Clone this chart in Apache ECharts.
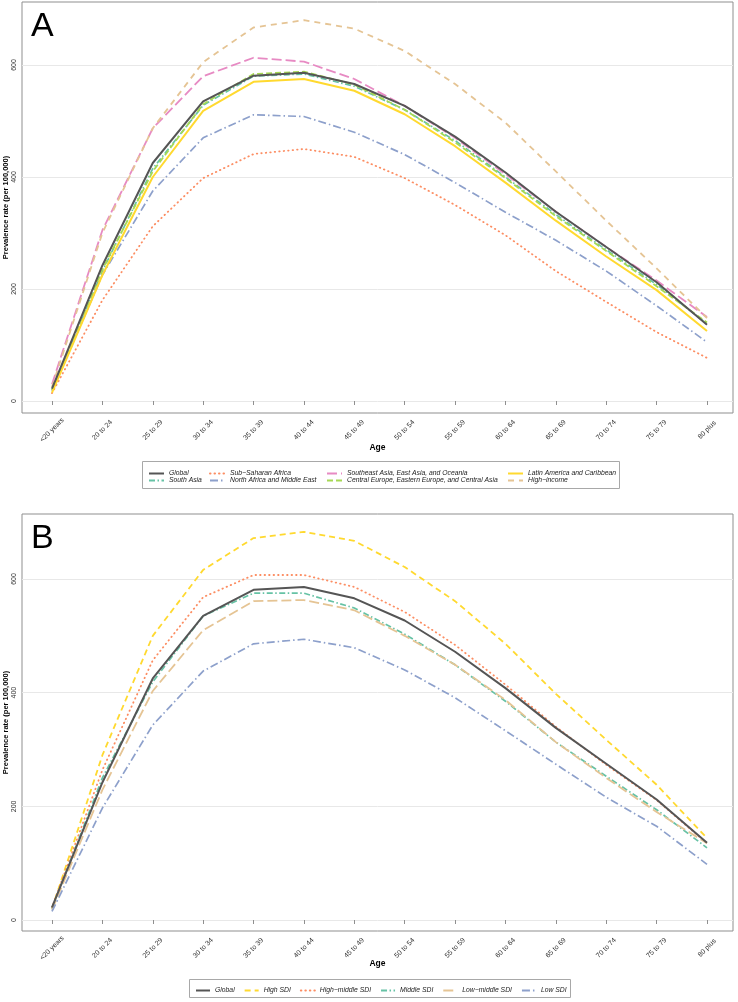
<!DOCTYPE html>
<html><head><meta charset="utf-8">
<script src="https://cdn.jsdelivr.net/npm/echarts@6/dist/echarts.min.js"></script>
<style>html,body{margin:0;padding:0;background:#fff}#c{width:738px;height:1002px}</style>
</head><body><div id="c"></div>
<script>
// ---------- data ----------
const ageGroups = ['<20 years','20 to 24','25 to 29','30 to 34','35 to 39','40 to 44','45 to 49','50 to 54','55 to 59','60 to 64','65 to 69','70 to 74','75 to 79','80 plus'];

// Panel A: regions
const globalVals      = [22, 242, 425, 535, 581, 586, 566, 527, 472, 408, 338, 275, 212, 136];
const southAsia       = [20, 232, 415, 528, 580, 584, 562, 520, 465, 400, 333, 270, 208, 138];
const subSaharan      = [14, 180, 312, 398, 441, 450, 436, 398, 350, 296, 232, 177, 123, 77];
const northAfrica     = [18, 225, 375, 470, 511, 508, 480, 440, 390, 337, 287, 232, 170, 105];
const southeastAsia   = [30, 305, 487, 580, 613, 606, 575, 527, 470, 405, 338, 275, 215, 150];
const centralEurope   = [20, 235, 410, 530, 584, 588, 565, 520, 462, 398, 330, 268, 205, 140];
const latinAmerica    = [15, 225, 400, 518, 570, 575, 554, 512, 455, 390, 322, 258, 198, 125];
const highIncome      = [25, 300, 487, 605, 667, 680, 665, 625, 566, 497, 410, 322, 237, 148];

// Panel B: SDI groups
const highSDI         = [20, 290, 500, 616, 672, 683, 667, 621, 561, 486, 398, 317, 238, 144];
const highMiddleSDI   = [22, 264, 457, 568, 607, 607, 586, 542, 484, 414, 340, 273, 211, 135];
const middleSDI       = [20, 250, 419, 535, 575, 575, 549, 503, 449, 385, 313, 253, 194, 127];
const lowMiddleSDI    = [18, 229, 403, 510, 561, 563, 545, 500, 449, 387, 313, 250, 190, 135];
const lowSDI          = [15, 197, 343, 438, 486, 494, 479, 440, 391, 333, 274, 216, 165, 98];

const yTickValues = [0, 200, 400, 600];

// ---------- styles ----------
const FONT = '"Liberation Sans", Arial, Helvetica, sans-serif';
const seriesA = [
  {name: 'Global', data: globalVals, color: '#555555', type: 'solid', width: 2},
  {name: 'South Asia', data: southAsia, color: '#66c2a5', type: [6, 2.5, 1.5, 2.5], width: 1.7},
  {name: 'Sub\u2212Saharan Africa', data: subSaharan, color: '#fc8d62', type: [0.5, 4], width: 1.8, cap: 'round'},
  {name: 'North Africa and Middle East', data: northAfrica, color: '#8da0cb', type: [8, 3, 1.5, 3], width: 1.7},
  {name: 'Southeast Asia, East Asia, and Oceania', data: southeastAsia, color: '#e78ac3', type: [10, 4], width: 1.8},
  {name: 'Central Europe, Eastern Europe, and Central Asia', data: centralEurope, color: '#a6d854', type: [6, 3], width: 1.8},
  {name: 'Latin America and Caribbean', data: latinAmerica, color: '#ffd92f', type: 'solid', width: 2},
  {name: 'High\u2212income', data: highIncome, color: '#e5c494', type: [6, 5], width: 1.8}
];
const seriesB = [
  {name: 'Global', data: globalVals, color: '#555555', type: 'solid', width: 2},
  {name: 'High SDI', data: highSDI, color: '#ffd92f', type: [6, 4], width: 1.8},
  {name: 'High\u2212middle SDI', data: highMiddleSDI, color: '#fc8d62', type: [0.5, 4], width: 1.8, cap: 'round'},
  {name: 'Middle SDI', data: middleSDI, color: '#66c2a5', type: [6, 2.5, 1.5, 2.5], width: 1.7},
  {name: 'Low\u2212middle SDI', data: lowMiddleSDI, color: '#e5c494', type: [10, 4], width: 1.8},
  {name: 'Low SDI', data: lowSDI, color: '#8da0cb', type: [8, 3, 1.5, 3], width: 1.7}
];

// ---------- layout ----------
const frameL = 22, frameR = 733, dataL = 52, dataR = 707;
const panels = [
  {label: 'A', frameTop: 2, frameBottom: 413, plotTop: 65, plotBottom: 401, ageGap: 30, series: seriesA},
  {label: 'B', frameTop: 514, frameBottom: 931, plotTop: 579, plotBottom: 920, ageGap: 28, series: seriesB}
];

const grid = [], xAxis = [], yAxis = [], series = [], title = [];
panels.forEach((p, pi) => {
  const base = pi * 3;
  grid.push({left: frameL, top: p.frameTop, width: frameR - frameL, height: p.frameBottom - p.frameTop,
    show: true, borderColor: '#8f8f8f', borderWidth: 1, backgroundColor: 'transparent',
    containLabel: false, outerBoundsMode: 'none'});
  grid.push({left: frameL, top: p.plotTop, width: frameR - frameL, height: p.plotBottom - p.plotTop,
    containLabel: false, outerBoundsMode: 'none'});
  grid.push({left: dataL, top: p.plotTop, width: dataR - dataL, height: p.plotBottom - p.plotTop,
    containLabel: false, outerBoundsMode: 'none'});

  xAxis.push({gridIndex: base, type: 'value', min: 0, max: 1,
    axisLine: {show: false}, axisTick: {show: false}, axisLabel: {show: false}, splitLine: {show: false},
    name: 'Age', nameLocation: 'middle', nameGap: p.ageGap,
    nameTextStyle: {fontFamily: FONT, fontSize: 8.5, fontWeight: 'bold', color: '#000'}});
  yAxis.push({gridIndex: base, type: 'value', min: 0, max: 1,
    axisLine: {show: false}, axisTick: {show: false}, axisLabel: {show: false}, splitLine: {show: false},
    name: 'Prevalence rate (per 100,000)', nameLocation: 'middle', nameGap: 12,
    nameTextStyle: {fontFamily: FONT, fontSize: 7.5, fontWeight: 'bold', color: '#000'}});

  xAxis.push({gridIndex: base + 1, type: 'value', min: 0, max: 1, show: false});
  yAxis.push({gridIndex: base + 1, type: 'value', min: yTickValues[0], max: yTickValues[yTickValues.length - 1], interval: 200,
    axisLine: {show: false}, axisTick: {show: false},
    axisLabel: {rotate: 90, margin: 4, fontFamily: FONT, fontSize: 7, color: '#333'},
    splitLine: {show: true, lineStyle: {color: '#e8e8e8', width: 1}}});

  xAxis.push({gridIndex: base + 2, type: 'category', data: ageGroups, boundaryGap: false,
    offset: p.frameBottom - p.plotBottom,
    axisLine: {show: false},
    axisTick: {show: true, length: 4, lineStyle: {color: '#8f8f8f'}},
    axisLabel: {interval: 0, rotate: 45, align: 'center', verticalAlign: 'middle', margin: 17,
      fontFamily: FONT, fontSize: 7, color: '#333'},
    splitLine: {show: false}});
  yAxis.push({gridIndex: base + 2, type: 'value', min: 0, max: 600, show: false, splitLine: {show: false}});

  p.series.forEach(s => {
    series.push({
      name: s.name, type: 'line', xAxisIndex: base + 2, yAxisIndex: base + 2,
      data: s.data, symbol: 'none', showSymbol: false, clip: false, smooth: false,
      color: s.color,
      lineStyle: {color: s.color, width: s.width, type: s.type, cap: s.cap || 'butt', join: 'round'},
      z: s.name === 'Global' ? 3 : 2
    });
  });

  title.push({text: p.label, left: 31, top: p.frameTop + 8, padding: 0,
    textStyle: {fontFamily: FONT, fontSize: 34, fontWeight: 'normal', color: '#000'}});
});

const legendText = {fontFamily: FONT, fontSize: 6.8, fontStyle: 'italic', color: '#222', lineHeight: 7};
const legendColsA = [
  {left: 148, items: ['Global', 'South Asia']},
  {left: 209, items: ['Sub\u2212Saharan Africa', 'North Africa and Middle East']},
  {left: 326, items: ['Southeast Asia, East Asia, and Oceania', 'Central Europe, Eastern Europe, and Central Asia']},
  {left: 507, items: ['Latin America and Caribbean', 'High\u2212income']}
];
const legendItemStyle = {opacity: 0, borderWidth: 0};
const legend = legendColsA.map(c => ({
  orient: 'vertical', left: c.left, top: 470, padding: 0, itemGap: 0,
  itemWidth: 15, itemHeight: 6, data: c.items, textStyle: legendText, selectedMode: false,
  itemStyle: legendItemStyle
}));
legend.push({
  orient: 'horizontal', left: 195, top: 987, padding: 0, itemGap: 9,
  itemWidth: 14, itemHeight: 6, data: seriesB.map(s => s.name), textStyle: legendText, selectedMode: false,
  itemStyle: legendItemStyle
});

const graphic = [
  {type: 'rect', shape: {x: 142.5, y: 461.5, width: 477, height: 27}, style: {fill: 'none', stroke: '#a8a8a8', lineWidth: 1}, silent: true},
  {type: 'rect', shape: {x: 189.5, y: 979.5, width: 381, height: 18}, style: {fill: 'none', stroke: '#a8a8a8', lineWidth: 1}, silent: true}
];

const chart = echarts.init(document.getElementById('c'), null, {renderer: 'canvas'});
chart.setOption({
  animation: false,
  backgroundColor: '#fff',
  title, grid, xAxis, yAxis, series, legend, graphic
});
</script>
</body></html>
